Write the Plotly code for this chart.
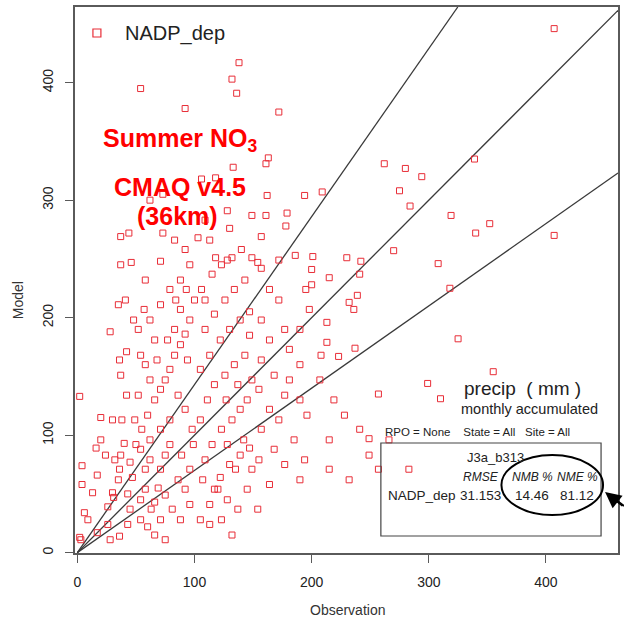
import plotly.graph_objects as go

# Observed vs modelled monthly accumulated precipitation (mm) at NADP sites
obs = [
    2, 4, 4, 6, 2, 3, 13, 17, 9, 17, 26, 30, 35, 36, 37, 40, 32, 31, 26, 28, 36, 43, 45, 43, 47, 45,
    38, 37, 36, 42, 37, 37, 44, 46, 30, 20, 16, 24, 35, 41, 48, 28, 20, 42, 49, 50,
    54, 60, 63, 66, 69, 71, 75, 79, 58, 62, 54, 55, 60, 66, 71, 75, 79, 83, 88, 92, 62, 58, 54, 52,
    62, 71, 79, 88, 96, 62, 73, 83, 92, 71, 58, 88, 83, 96, 100, 94, 86, 92, 98, 79, 71, 62, 89, 96,
    86, 75, 81, 88, 96, 71, 66, 75, 92, 99, 58, 54, 52, 68, 77, 84, 93, 57, 66,
    105, 113, 117, 122, 130, 139, 147, 109, 115, 123, 132, 139, 145, 105, 111, 117, 126, 134, 143,
    105, 113, 122, 130, 139, 147, 109, 117, 126, 134, 143, 106, 115, 123, 132, 140, 149, 118, 103,
    113, 128, 109, 109, 118, 106, 128, 130, 133, 120, 128, 137, 145, 135, 142, 113, 123, 132, 149,
    107, 149, 147, 128, 127, 137,
    149, 161, 157, 162, 163, 161, 154, 157, 164, 172, 157, 164, 177, 181, 190, 157, 168, 181, 190,
    196, 155, 164, 172, 185, 194, 157, 168, 177, 155, 190, 164, 179, 178, 186, 195, 198, 172, 177,
    190, 154,
    209, 194, 201, 200, 215, 242, 230, 200, 239, 232, 236, 213, 213, 237, 208, 223, 270, 241, 207,
    219, 228, 241, 215, 249, 266, 257, 283, 275, 284, 262, 280, 294, 257, 299, 249, 215, 232,
    339, 319, 352, 340, 407, 308, 318, 325, 355, 310, 407,
    54, 92, 172, 138, 132, 136, 73,
]
model = [
    133, 74, 58, 34, 13, 11, 51, 66, 28, 17, 39, 51, 62, 71, 83, 93, 79, 47, 24, 11, 14, 24, 37, 50, 64, 77,
    113, 151, 164, 171, 245, 269, 272, 247, 113, 115, 89, 83, 211, 215, 198, 188, 96, 134, 113, 92,
    28, 22, 37, 43, 55, 71, 83, 92, 71, 79, 88, 105, 117, 130, 139, 147, 156, 168, 177, 186, 147, 160, 168, 190,
    198, 211, 224, 232, 245, 300, 305, 266, 258, 248, 232, 207, 190, 198, 215, 164, 134, 122, 105, 113, 105, 96, 83, 71,
    62, 49, 37, 28, 41, 28, 15, 11, 54, 92, 54, 45, 134, 164, 181, 215, 224, 207, 181,
    28, 41, 54, 64, 75, 83, 89, 79, 92, 105, 113, 122, 130, 113, 130, 143, 151, 160, 168,
    156, 168, 181, 190, 198, 205, 190, 203, 215, 224, 232, 224, 237, 245, 251, 258, 251, 251, 268,
    266, 249, 215, 283, 319, 318, 291, 276, 328, 54, 45, 37, 54, 71, 96, 24, 28, 15, 71,
    62, 147, 185, 92, 130, 143,
    287, 287, 269, 304, 336, 331, 247, 242, 224, 215, 198, 181, 190, 173, 190, 164, 151, 147, 130,
    117, 139, 122, 113, 96, 79, 105, 88, 75, 79, 62, 58, 289, 278, 253, 224, 207, 249, 134,
    160, 37,
    307, 304, 252, 241, 234, 248, 251, 228, 219, 213, 207, 196, 179, 174, 168, 167, 257, 237, 147,
    130, 117, 105, 96, 83, 96, 71, 71, 308, 295, 331, 327, 320, 135, 144, 97, 71, 62,
    335, 287, 280, 272, 270, 246, 225, 182, 154, 131, 446,
    395, 378, 375, 417, 403, 391, 272,
]

# Reference lines through the origin (model = slope * obs)
slopes = [0.70, 1.0, 1.43]

# Summary statistics table
stat_run = "J3a_b313"
stat_names = ["RMSE", "NMB %", "NME %"]
stat_network = "NADP_dep"
stat_values = ["31.153", "14.46", "81.12"]

x_ticks = [0, 100, 200, 300, 400]
y_ticks = [0, 100, 200, 300, 400]
x_range = [-2.0, 461.5]
y_range = [-0.3, 464.4]

W, H = 624, 622
ML, MR, MT, MB = 75, 4, 7, 69
PW, PH = W - ML - MR, H - MT - MB


def px(x):
    return (x - ML) / PW


def py(y):
    return (H - MB - y) / PH


RED = "rgb(232,45,55)"
INK = "#222222"
FONT = "Liberation Sans, Arial, Helvetica, sans-serif"

fig = go.Figure()

for s in slopes:
    x_end = min(x_range[1], y_range[1] / s)
    fig.add_trace(go.Scatter(
        x=[0, x_end], y=[0, s * x_end], mode="lines",
        line=dict(color="#3a3a3a", width=1.3), hoverinfo="skip", showlegend=False,
    ))

fig.add_trace(go.Scatter(
    x=obs, y=model, mode="markers", name="NADP_dep",
    marker=dict(symbol="square-open", size=6, color=RED, line=dict(width=1, color=RED)),
    showlegend=False,
))

axis_common = dict(
    showgrid=False, zeroline=False, showline=True, mirror=True,
    linecolor="#5a5a5a", linewidth=1.5, ticks="outside", ticklen=8,
    tickcolor="#5a5a5a", tickwidth=1.2,
    tickfont=dict(family=FONT, size=14, color=INK),
)
fig.update_xaxes(range=x_range, tickvals=x_ticks, ticklabelstandoff=7, **axis_common)
fig.update_yaxes(range=y_range, tickvals=y_ticks, tickangle=-90, ticklabelstandoff=7,
                 **axis_common)

shapes = [
    # legend symbol
    dict(type="rect", xref="paper", yref="paper",
         x0=px(93), x1=px(101), y0=py(29), y1=py(37),
         line=dict(color=RED, width=1.2)),
    # statistics box
    dict(type="rect", xref="paper", yref="paper",
         x0=px(382), x1=px(603), y0=py(443), y1=py(536),
         line=dict(color="#444444", width=1.2)),
    # highlight around the bias / error columns
    dict(type="circle", xref="paper", yref="paper",
         x0=px(503), x1=px(605), y0=py(455), y1=py(515),
         line=dict(color="black", width=2)),
    # arrow shaft running in from the right edge
    dict(type="line", xref="paper", yref="paper",
         x0=px(610), y0=py(494), x1=px(626), y1=py(506),
         line=dict(color="black", width=2)),
]


def label(text, x, y, size, color=INK, bold=False, italic=False, angle=0, xanchor="center"):
    t = text
    if bold:
        t = "<b>" + t + "</b>"
    if italic:
        t = "<i>" + t + "</i>"
    return dict(text=t, x=px(x), y=py(y), xref="paper", yref="paper",
                showarrow=False, xanchor=xanchor, yanchor="middle", textangle=angle,
                font=dict(family=FONT, size=size, color=color))


annotations = [
    label("NADP_dep", 123, 33, 20, xanchor="left"),
    label("Summer NO<sub>3</sub>", 180, 140, 25, color="#ff0000", bold=True),
    label("CMAQ v4.5", 180, 187, 25, color="#ff0000", bold=True),
    label("(36km)", 178, 216, 25, color="#ff0000", bold=True),
    label("precip  ( mm )", 524, 388, 19),
    label("monthly accumulated", 531, 409, 14.5),
    label("RPO = None    State = All   Site = All", 479, 432, 11.5),
    label(stat_run, 497, 457, 13),
    label("Observation", 349, 610, 14, color="#333333"),
    label("Model", 18, 300, 14, color="#333333", angle=-90),
    label(stat_network, 423, 495, 13.5),
]
stat_x = [482, 534, 579]
for name, val, xc in zip(stat_names, stat_values, stat_x):
    annotations.append(label(name, xc, 477, 12, italic=True))
    annotations.append(label(val, xc, 495, 13.5))

# arrow head pointing at the highlighted statistics
annotations.append(dict(
    x=px(607), y=py(492), xref="paper", yref="paper", text="",
    showarrow=True, ax=20, ay=15, arrowhead=2, arrowsize=1.6, arrowwidth=2,
    arrowcolor="black",
))

fig.update_layout(
    width=W, height=H,
    margin=dict(l=ML, r=MR, t=MT, b=MB),
    paper_bgcolor="white", plot_bgcolor="white",
    shapes=shapes, annotations=annotations,
    font=dict(family=FONT),
)

fig.write_html("out.html")
